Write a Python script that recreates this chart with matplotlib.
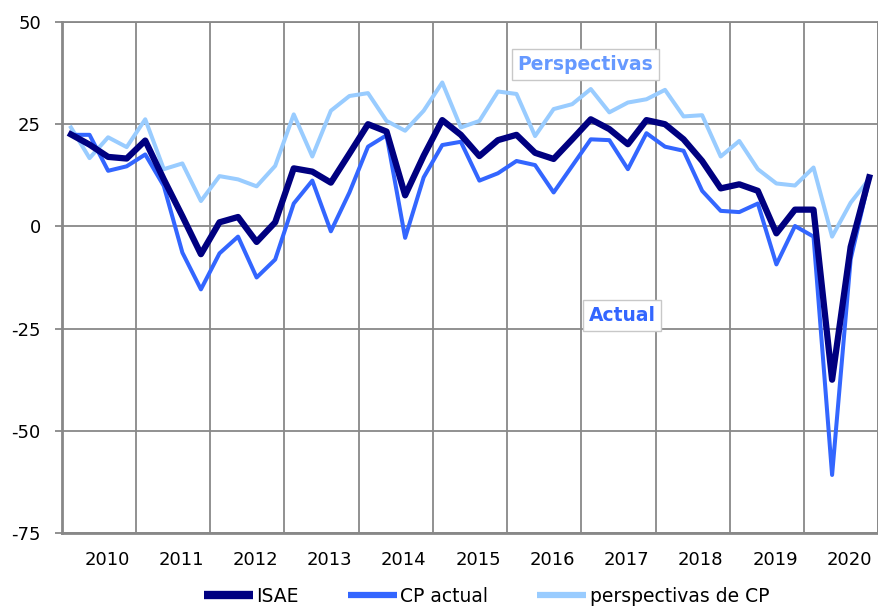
import matplotlib
matplotlib.use("Agg")
import matplotlib.pyplot as plt
import matplotlib.transforms as mtransforms
import numpy as np

years = ["2010", "2011", "2012", "2013", "2014", "2015", "2016", "2017", "2018", "2019", "2020"]

isae = [22.5, 20.0, 17.0, 16.6, 21.0, 11.5, 2.5, -6.8,
        1.0, 2.3, -3.8, 1.0, 14.2, 13.4, 10.7, 17.8,
        25.0, 23.2, 7.6, 17.3, 26.0, 22.4, 17.2, 21.1,
        22.4, 18.0, 16.5, 21.3, 26.2, 23.8, 20.1, 26.0,
        25.0, 21.3, 16.0, 9.3, 10.3, 8.7, -1.7, 4.1,
        4.1, -37.5, -5.0, 12.0]
cp_actual = [22.4, 22.4, 13.6, 14.7, 17.6, 9.9, -6.4, -15.4,
             -6.6, -2.5, -12.5, -8.1, 5.6, 11.2, -1.2, 8.3,
             19.5, 22.3, -2.8, 12.0, 19.9, 20.7, 11.2, 13.0,
             16.0, 15.0, 8.3, 14.8, 21.3, 21.1, 14.0, 22.8,
             19.5, 18.5, 8.7, 3.8, 3.5, 5.6, -9.3, 0.1,
             -2.5, -60.8, -8.0, 11.6]
cp_persp = [24.2, 16.7, 21.8, 19.4, 26.2, 14.0, 15.4, 6.2,
            12.3, 11.5, 9.8, 14.8, 27.4, 17.1, 28.3, 31.9,
            32.6, 25.8, 23.4, 28.3, 35.2, 24.2, 25.8, 33.0,
            32.4, 22.1, 28.7, 29.9, 33.6, 27.9, 30.3, 31.1,
            33.4, 26.9, 27.2, 17.1, 20.9, 14.0, 10.5, 10.0,
            14.4, -2.5, 5.8, 11.6]

series_labels = ["ISAE", "CP actual", "perspectivas de CP"]
yticks = [-75, -50, -25, 0, 25, 50]

plt.rcParams["font.family"] = ["DejaVu Sans"]

W, H = 879, 606
fig = plt.figure(figsize=(W / 100, H / 100), dpi=100)
ax = fig.add_axes([61.7 / W, 1 - 533 / H, (878.5 - 61.7) / W, (533 - 22) / H])

n = len(isae)
x = np.arange(n) + 0.5
l3, = ax.plot(x, cp_persp, color="#99CCFF", lw=2.9, solid_joinstyle="round", label=series_labels[2], zorder=3)
l2, = ax.plot(x, cp_actual, color="#3366FF", lw=2.9, solid_joinstyle="round", label=series_labels[1], zorder=4)
l1, = ax.plot(x, isae, color="#000080", lw=4.5, solid_joinstyle="round", label=series_labels[0], zorder=5)

ax.set_xlim(0, n)
ax.set_ylim(-75, 50)
ax.set_yticks(yticks)
ax.set_yticklabels([str(v) for v in yticks], fontsize=13)
ax.tick_params(axis="y", length=5, width=1.3, color="#888888", pad=10)

ax.set_xticks(np.arange(0, n + 1, 4))
ax.set_xticklabels([])
ax.set_xticks(np.arange(2, n, 4), minor=True)
ax.set_xticklabels(years, minor=True, fontsize=13)
ax.tick_params(axis="x", which="both", length=0, pad=13)
offset = mtransforms.ScaledTranslation(8 / 100, 0, fig.dpi_scale_trans)
for lab in ax.get_xticklabels(minor=True):
    lab.set_transform(lab.get_transform() + offset)

ax.grid(True, which="major", color="#888888", lw=1.3)
ax.set_axisbelow(True)
for s in ["left", "bottom"]:
    ax.spines[s].set_color("#888888")
    ax.spines[s].set_linewidth(2)
for s in ["top", "right"]:
    ax.spines[s].set_color("#888888")
    ax.spines[s].set_linewidth(1.3)

box = dict(boxstyle="square,pad=0.3", fc="white", ec="#C8C8C8", lw=1)
ax.text(28.2, 39.6, "Perspectivas", color="#6699FF", fontsize=13.5, fontweight="bold",
        ha="center", va="center", bbox=box, zorder=6)
ax.text(30.2, -21.8, "Actual", color="#3366FF", fontsize=13.5, fontweight="bold",
        ha="center", va="center", bbox=box, zorder=6)

leg = fig.legend(handles=[l1, l2, l3], loc="center left", bbox_to_anchor=(204 / W, 1 - 596 / H),
                 ncol=3, frameon=False, prop={"size": 13.5},
                 handlelength=2.6, handletextpad=0.2, columnspacing=2.6, borderaxespad=0, borderpad=0)
for h in leg.legend_handles:
    h.set_solid_capstyle("butt")
leg.legend_handles[0].set_linewidth(6)
leg.legend_handles[1].set_linewidth(4.5)
leg.legend_handles[2].set_linewidth(4.5)

fig.savefig("out.png", dpi=100)
